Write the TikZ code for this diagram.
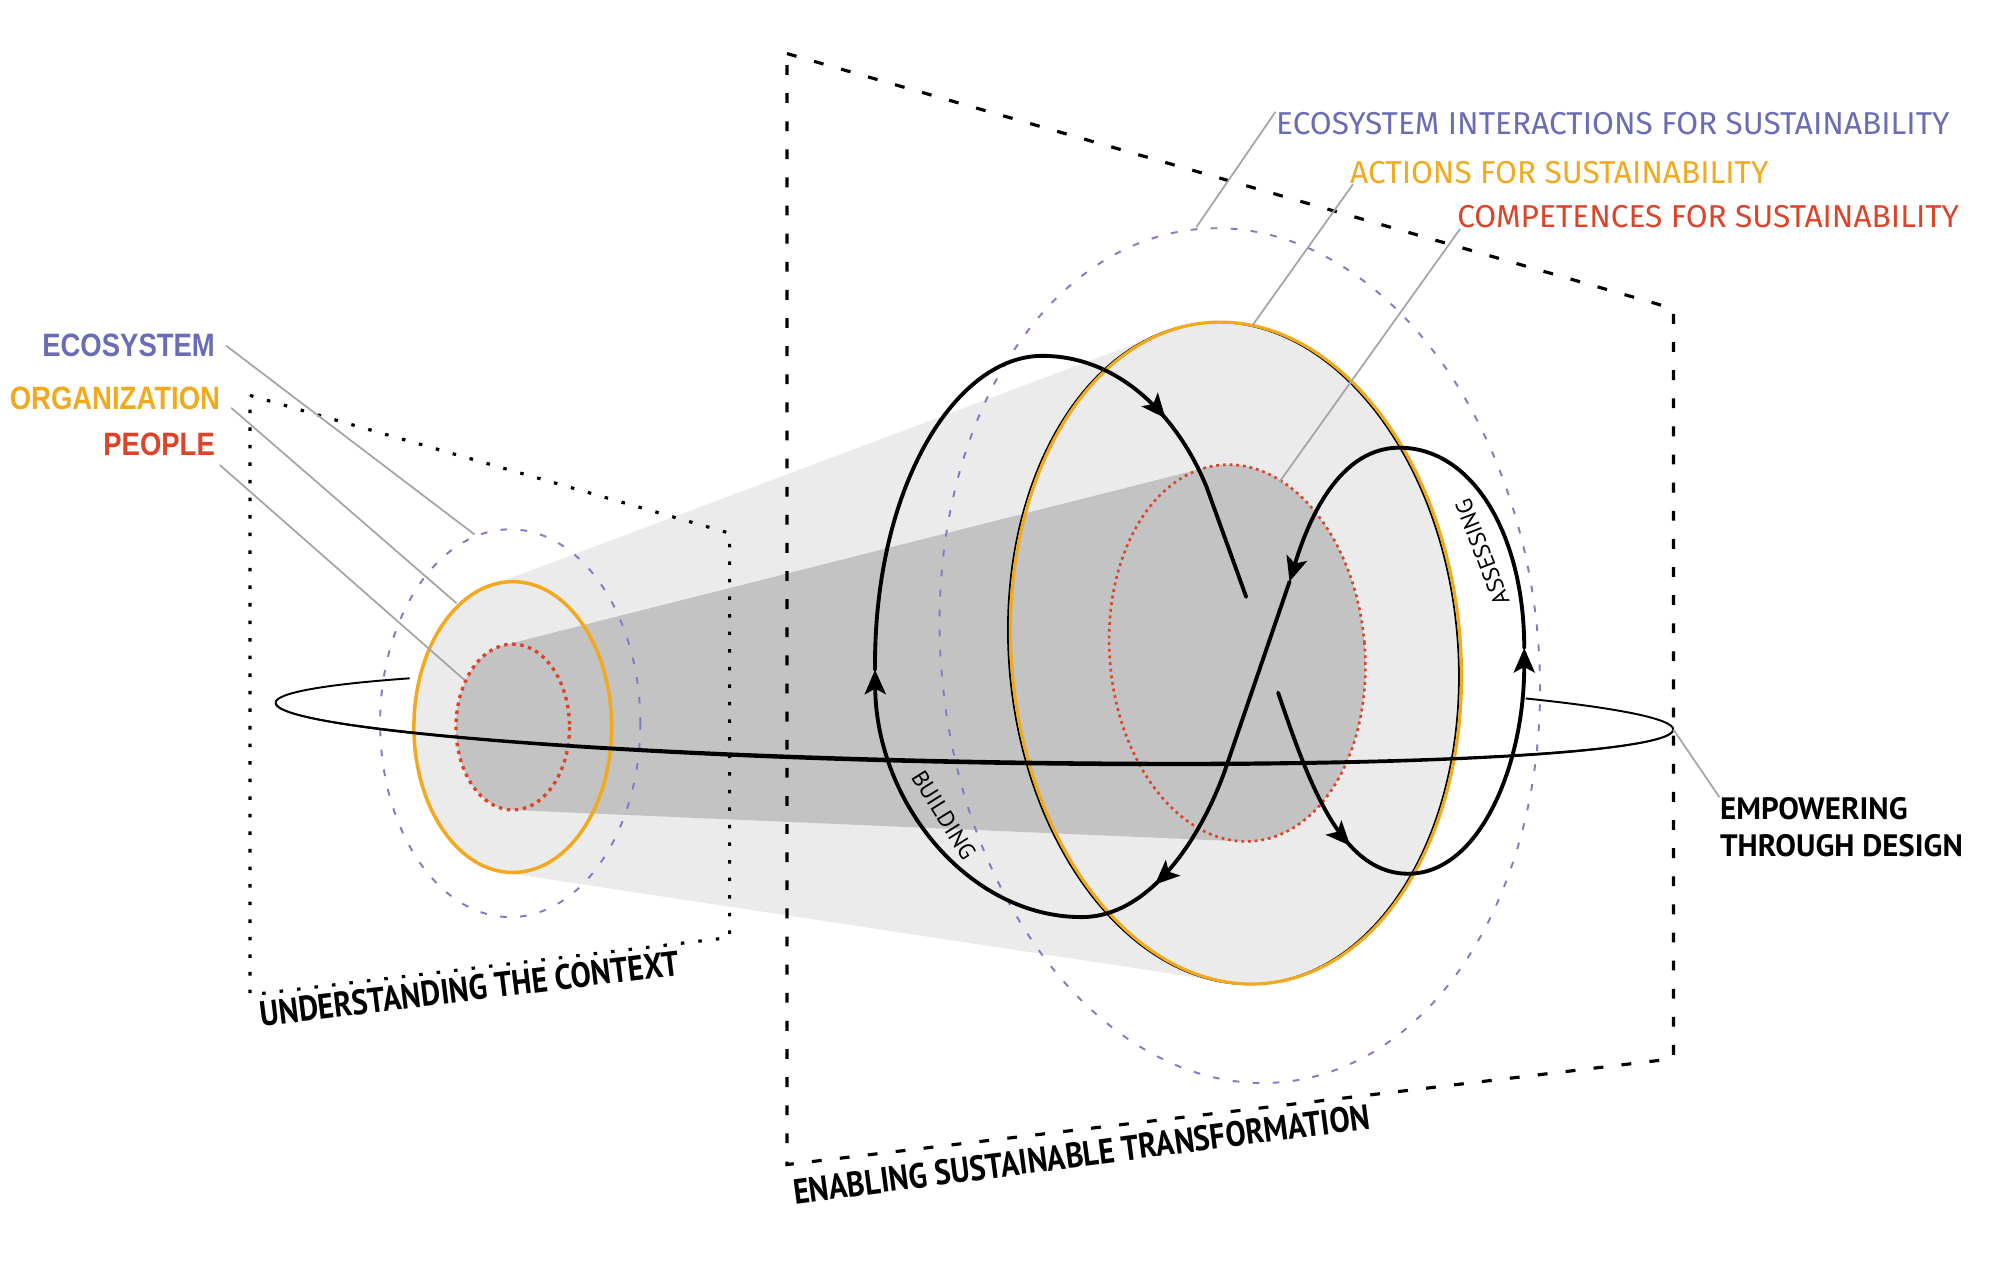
\documentclass[tikz,border=0pt]{standalone}
\usepackage{fontspec}
\usetikzlibrary{arrows.meta,decorations.markings}
\setmainfont{Liberation Sans}
\newfontfamily\leftlbl[FakeStretch=0.85]{Liberation Sans}
\newfontfamily\rightlbl{Fira Sans}
\newfontfamily\botlbl[FakeStretch=0.865]{PT Sans}
\newfontfamily\emplbl{PT Sans}
\definecolor{cblue}{HTML}{6A6DB5}
\definecolor{corange}{HTML}{F2A91E}
\definecolor{cred}{HTML}{DC4329}
\definecolor{clight}{HTML}{EBEBEB}
\definecolor{cdark}{HTML}{C3C3C3}
\definecolor{cdash}{HTML}{7B7EC4}
\definecolor{cleader}{HTML}{A5A5A5}
\begin{document}
\begin{tikzpicture}[x=0.012755cm,y=-0.012755cm,
  >={Stealth[length=7pt,width=6pt,inset=1.6pt]},
  flow/.style={line width=1.1pt, line cap=round},
  midarrow/.style={postaction={decorate},decoration={markings,mark=at position #1 with {\arrow{>}}}},
  leader/.style={draw=cleader, line width=0.5pt},
  bluedash/.style={draw=cdash, line width=0.55pt, dash pattern=on 1.9pt off 3.8pt},
  reddot/.style={draw=cred, line width=0.75pt, dash pattern=on 0.8pt off 1.1pt},
  bigframe/.style={line width=0.9pt, dash pattern=on 2.8pt off 5.2pt},
  smallframe/.style={line width=0.9pt, dash pattern=on 1pt off 4pt},
  leftfont/.style={inner sep=0pt, font=\leftlbl\bfseries\fontsize{9.2}{10}\selectfont},
  rightfont/.style={inner sep=0pt, font=\rightlbl\fontsize{9}{10}\selectfont},
  botfont/.style={inner sep=0pt, font=\botlbl\bfseries\fontsize{10}{12}\selectfont},
  loopfont/.style={inner sep=0pt, font=\emplbl\fontsize{6.6}{8}\selectfont},
  empfont/.style={inner sep=0pt, align=left, font=\emplbl\bfseries\fontsize{8.8}{10.5}\selectfont}]
\useasboundingbox (0,0) rectangle (1568,989);

% ---- cone fills ----
\fill[clight] (385,459) -- (915,260) -- (962.5,770) -- (395,684) -- cycle;
\fill[clight] (402,570) ellipse [x radius=77.5, y radius=114];
\fill[clight, rotate around={5:(969,512)}] (969,512) ellipse [x radius=176, y radius=260];
\fill[cdark] (394.7,505.9) -- (946.6,366.3) -- (974.4,659.7) -- (400.8,635) -- cycle;
\fill[cdark] (402,570) ellipse [x radius=44.5, y radius=65];
\fill[cdark, rotate around={5:(970,512)}] (970,512) ellipse [x radius=100, y radius=148];

% ---- left rings ----
\draw[bluedash] (400,567) ellipse [x radius=102, y radius=152];
\draw[corange, line width=1pt] (402,570) ellipse [x radius=77.5, y radius=114];
\draw[reddot, line width=0.95pt, dash pattern=on 1pt off 1.3pt] (402,570) ellipse [x radius=44.5, y radius=65];

% ---- right rings ----
\draw[bluedash, rotate around={6:(972,514)}] (972,514) ellipse [x radius=234, y radius=336];
\draw[reddot, rotate around={5:(970,512)}] (970,512) ellipse [x radius=100, y radius=148];
\draw[black, line width=0.5pt, rotate around={5:(969,512)}] (967,512) ellipse [x radius=176, y radius=260];
\draw[corange, line width=0.9pt, rotate around={5:(969,512)}] (969,512) ellipse [x radius=176, y radius=260];

% ---- frames ----
\draw[smallframe] (196,310) -- (572,418) -- (572,735) -- (196,780) -- cycle;
\draw[bigframe] (617,42) -- (1312,242) -- (1312,830) -- (617,913) -- cycle;

% ---- ring (back parts) ----
\coordinate (ringC) at (764,561.5);
\coordinate (ringE) at (1312,572);
\begin{scope}[rotate around={-1.1:(ringC)}]
  \draw[line width=0.55pt] (ringC) ++(180:548) arc[start angle=180, end angle=216, x radius=548, y radius=36];
  \draw[line width=0.55pt] (ringC) ++(322:548 and 36) arc[start angle=322, end angle=360, x radius=548, y radius=36];
\end{scope}

% ---- flow loops ----
\draw[flow, midarrow=0.72] (1002,543) .. controls (1025,610) and (1050,685) .. (1104,685);
\draw[flow, ->] (1104,685) .. controls (1160,685) and (1195,600) .. (1195,508);
\draw[flow] (1195,508) .. controls (1195,420) and (1155,351) .. (1097,351);
\draw[flow, ->] (1097,351) .. controls (1045,351) and (1022,420) .. (1011,456);
\draw[flow] (1011,456) -- (960,605);
\draw[flow, midarrow=0.62] (960,605) .. controls (940,660) and (900,719) .. (848,719);
\draw[flow, ->] (848,719) .. controls (760,719) and (687,630) .. (686,525);
\draw[flow] (686,525) .. controls (685,380) and (750,279) .. (817,279);
\draw[flow, midarrow=0.64] (817,279) .. controls (880,279) and (925,330) .. (946,382);
\draw[flow] (946,382) -- (977,468);

\node[loopfont, rotate=-58] (build) at (740,639) {BUILDING};
\node[loopfont, rotate=111] (assess) at (1162,433) {ASSESSING};

% ---- ring (front part) ----
\begin{scope}[rotate around={-1.1:(ringC)}]
  \fill (ringC) ++(0:548) arc[start angle=0, end angle=180, x radius=548, y radius=37.8]
        arc[start angle=180, end angle=0, x radius=548, y radius=34.2] -- cycle;
  \draw[line width=0.6pt] (ringC) ++(0:548) arc[start angle=0, end angle=180, x radius=548, y radius=36];
\end{scope}

% ---- left labels ----
\node[leftfont, anchor=east, text=cblue] (lEco) at (169,271) {ECOSYSTEM};
\node[leftfont, anchor=east, text=corange] (lOrg) at (173,312) {ORGANIZATION};
\node[leftfont, anchor=east, text=cred] (lPeo) at (169,348) {PEOPLE};
\coordinate (pEco) at (372,419);
\coordinate (pOrg) at (358,473);
\coordinate (pPeo) at (364,533);
\draw[leader] ([xshift=3pt]lEco.east) -- (pEco);
\draw[leader] ([shift={(3pt,-2.8pt)}]lOrg.east) -- (pOrg);
\draw[leader] ([shift={(1.2pt,-6pt)}]lPeo.east) -- (pPeo);

% ---- right labels ----
\node[rightfont, anchor=west, text=cblue] (rEco) at (1000,97) {ECOSYSTEM INTERACTIONS FOR SUSTAINABILITY};
\node[rightfont, anchor=west, text=corange] (rAct) at (1058,135) {ACTIONS FOR SUSTAINABILITY};
\node[rightfont, anchor=west, text=cred] (rCom) at (1142,170) {COMPETENCES FOR SUSTAINABILITY};
\coordinate (qEco) at (938,178);
\coordinate (qAct) at (982,255);
\coordinate (qCom) at (1003,378);
\draw[leader] (rEco.north west) -- (qEco);
\draw[leader] ([xshift=1pt]rAct.south west) -- (qAct);
\draw[leader] ([xshift=1pt]rCom.south west) -- (qCom);

% ---- empowering ----
\node[empfont, anchor=north west] (emp) at (1348,625) {EMPOWERING\\THROUGH DESIGN};
\draw[leader] (ringE) -- (emp.north west);

% ---- bottom labels ----
\node[botfont, rotate=7] (ctx) at (368,775) {UNDERSTANDING THE CONTEXT};
\node[botfont, rotate=7.5] (est) at (848,905) {ENABLING SUSTAINABLE TRANSFORMATION};
\end{tikzpicture}
\end{document}
